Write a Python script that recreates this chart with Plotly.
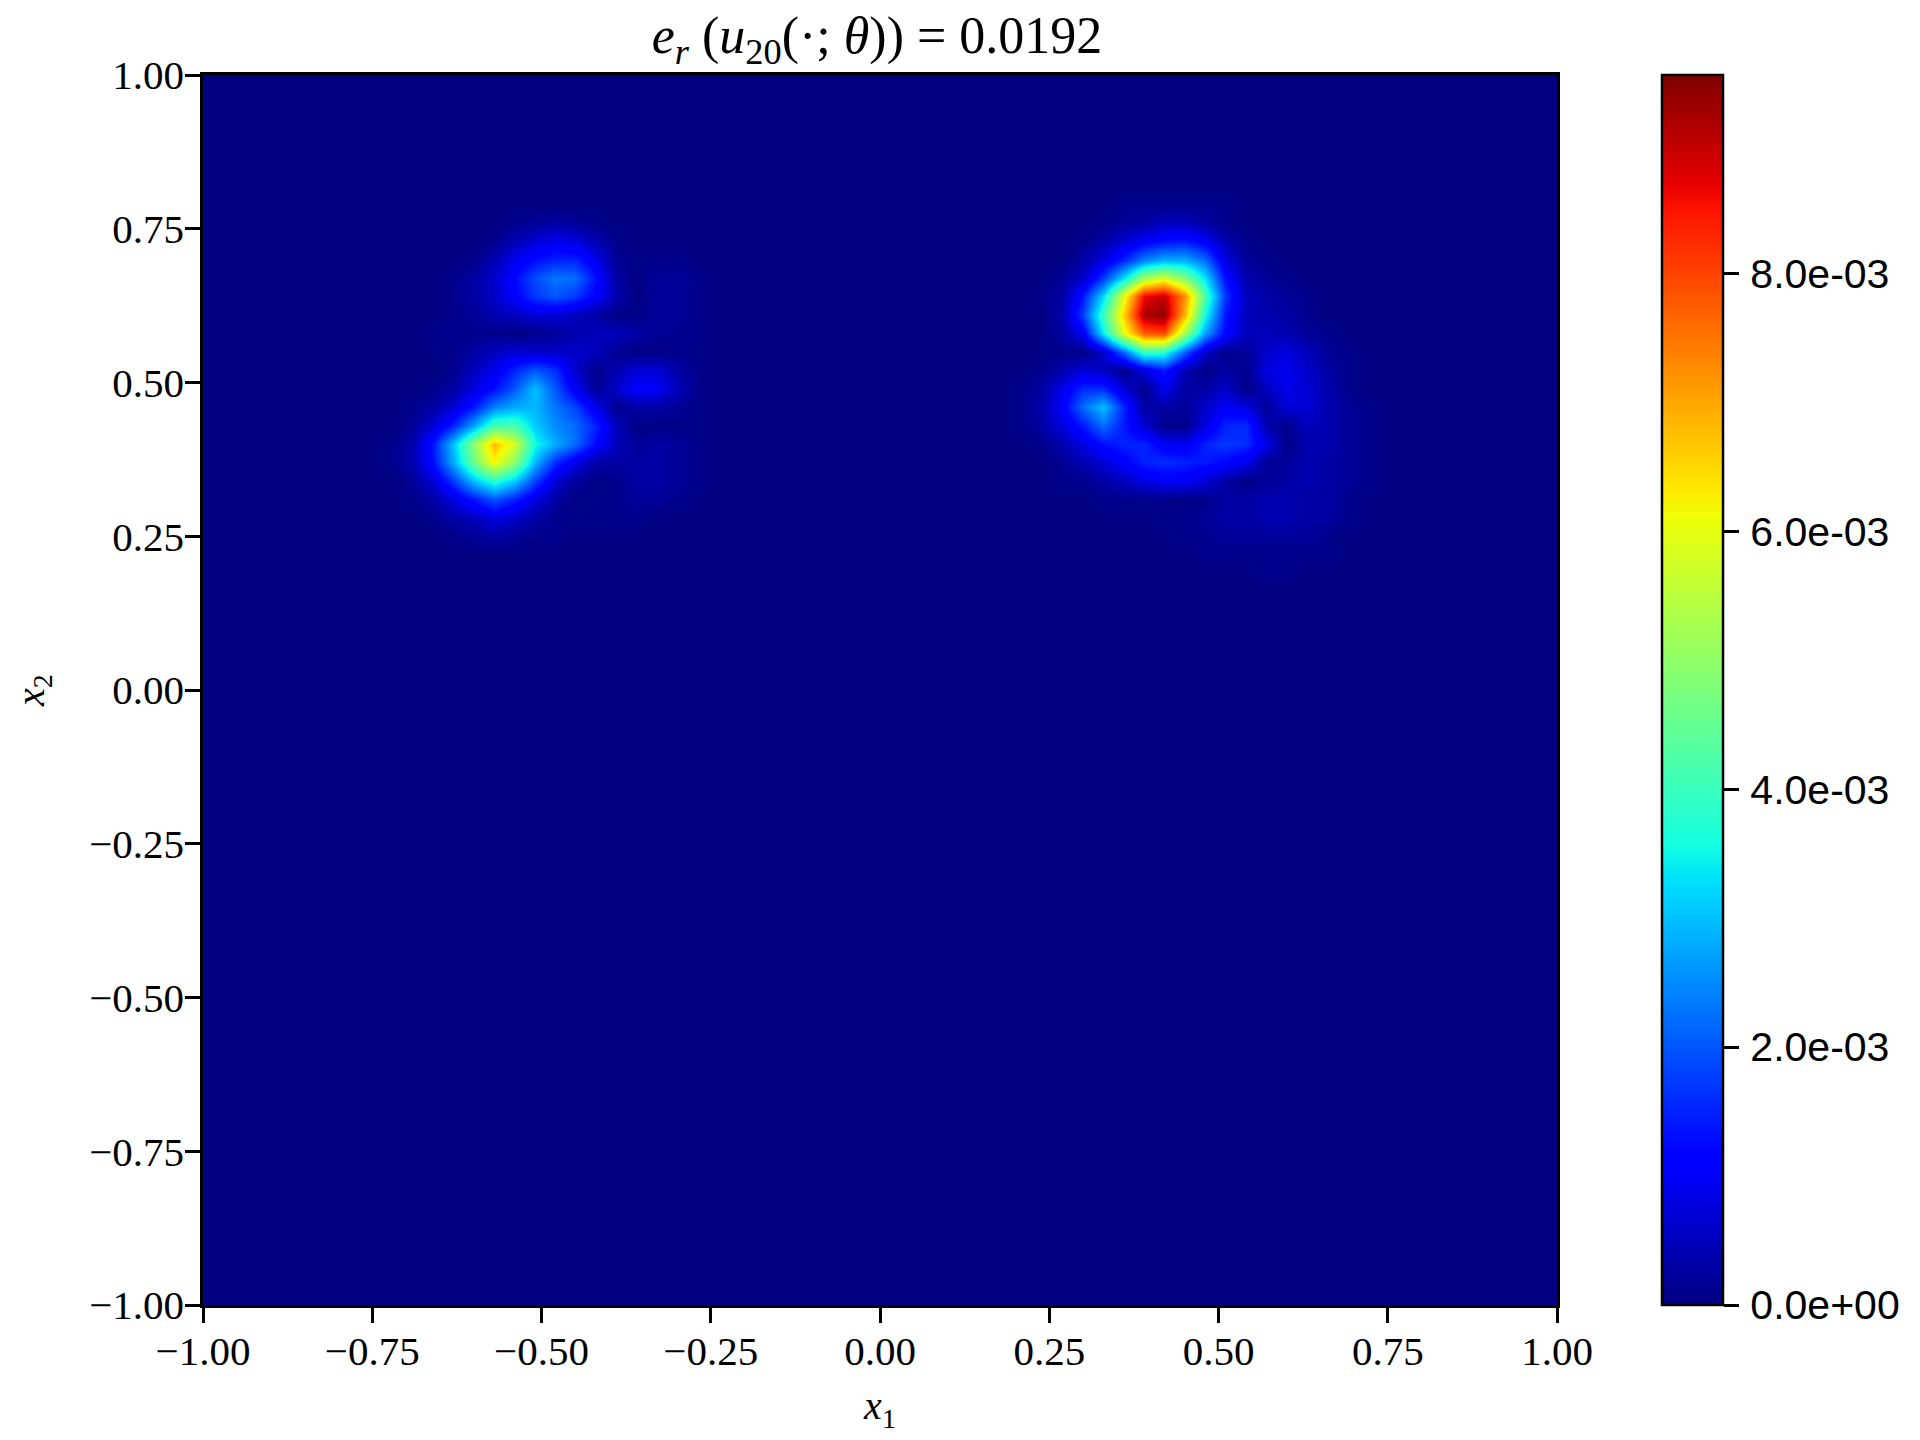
import numpy as np
import plotly.graph_objects as go

TITLE = "<i>e<sub>r</sub></i> (<i>u</i><sub>20</sub>(·; <i>θ</i>)) = 0.0192"
XLABEL = "<i>x</i><sub>1</sub>"
YLABEL = "<i>x</i><sub>2</sub>"
axis_ticks = [-1.0, -0.75, -0.5, -0.25, 0.0, 0.25, 0.5, 0.75, 1.0]
cbar_ticks = [0.0, 0.002, 0.004, 0.006, 0.008]
cbar_text = ["\u200a0.0e+00", "\u200a2.0e-03", "\u200a4.0e-03", "\u200a6.0e-03", "\u200a8.0e-03"]
ZMAX = 0.00954

x_left = [-0.72, -0.69, -0.66, -0.63, -0.60, -0.57, -0.54, -0.51, -0.48, -0.45, -0.42, -0.39, -0.36, -0.33, -0.30, -0.27]
x_right = [0.21, 0.24, 0.27, 0.30, 0.33, 0.36, 0.39, 0.42, 0.45, 0.48, 0.51, 0.54, 0.57, 0.60, 0.63, 0.66, 0.69, 0.72]
y_rows = [0.79, 0.76, 0.73, 0.70, 0.67, 0.64, 0.61, 0.58, 0.55, 0.52, 0.49, 0.46, 0.43, 0.40, 0.37, 0.34, 0.31, 0.28, 0.25, 0.22, 0.19]

# in units of 1e-4; rows run from x2=0.79 down to x2=0.19
left_values = [
 [0,0,0,0,0,0,0,0,0,0,0,0,0,0,0,0],
 [0,0,0,0,0,0,1,2,3,2,1,0,0,0,0,0],
 [0,0,0,0,0,1,4,7,9,8,4,1,0,0,0,0],
 [0,0,0,0,1,4,9,13,15,15,9,2,0.5,1,1,0],
 [0,0,0,1,3,6,12,19,23,22,13,3,0,2,2,1],
 [0,0,0,1,3,6,11,17,20,17,11,4,0,2,2,1],
 [0,0,0,1,2,4,5,7,7,5,3,0.5,0.5,2,2,1],
 [0,0,1,1,1,1,0.5,1,2,4,5,5,3,2,1,1],
 [0,0,0.5,1,3,5,7,6,6,6,5,1.5,0.5,0.5,1,0.5],
 [0,0,0,1,5,9,15,20,16,6,1,4,7,7,3,1],
 [0,0,1,3,8,13,20,30,20,10,1.5,6,11,10,5,1],
 [0,1,3,7,14,24,28,29,23,18,9,1,3,3,2,0.5],
 [0,2,7,15,28,42,42,31,25,22,15,5,0.5,0.5,0.5,0.5],
 [1,4,14,30,50,68,58,36,28,22,12,5,2,3,2,1],
 [1,4,13,28,46,62,50,29,16,9,3,3,3,3,2,1],
 [0,2,7,17,30,38,31,18,7,2,0.5,1,3,3,2,1],
 [0,1,3,8,14,20,15,8,3,0.5,0.5,1,2,2,1,0],
 [0,0,1,3,5,8,6,3,1,0.5,1,1,1,0,0,0],
 [0,0,0,1,2,3,2,1,1,0,0,0,0,0,0,0],
 [0,0,0,0,0,0,0,0,0,0,0,0,0,0,0,0],
 [0,0,0,0,0,0,0,0,0,0,0,0,0,0,0,0],
]
right_values = [
 [0,0,0,0,0,1,1,1,1,1,1,0,0,0,0,0,0,0],
 [0,0,0,0,1,2,3,5,5,3,1,0,0,0,0,0,0,0],
 [0,0,0,1,3,7,10,13,14,10,4,1,0,0,0,0,0,0],
 [0,0,0,3,8,15,24,28,28,22,8,2,1,0,0,0,0,0],
 [0,0,2,6,17,33,52,58,48,33,13,4,2,1,0,0,0,0],
 [0,1,3,14,32,60,86,90,72,42,17,5,3,2,1,0,0,0],
 [0,0,4,18,40,66,92,94,68,36,14,5,4,3,1,0,0,0],
 [0,0,3,10,34,60,78,80,52,27,12,5,5,4,2,1,0,0],
 [0,0.5,1,0.5,6,22,40,38,20,6,1,2,6,8,5,2,1,0],
 [0,1,4,7,5,1,8,14,4,0.5,3,1,8,9,6,3,1,0],
 [1,3,9,16,16,7,1,9,3,3,6,0.5,5,9,7,4,1,0],
 [1,4,11,22,30,15,3,3,2,6,10,8,2,7,7,4,2,1],
 [1,3,8,14,22,14,7,1,1,8,15,16,4,1,5,4,2,1],
 [0,1,4,8,13,15,15,10,9,15,17,16,9,0.5,4,4,2,1],
 [0,0,2,4,7,11,15,16,15,14,12,9,2,2,4,3,2,1],
 [0,0,1,1,3,5,8,10,10,7,3,0.5,2,3,4,3,2,1],
 [0,0,0,0,1,1,1,1,0.5,1,3,3,4,4,3,3,1,0],
 [0,0,0,0,0,0,0,1,1,2,3,3,4,4,3,3,1,0],
 [0,0,0,0,0,0,0,0,1,1,2,2,2,2,2,1,0,0],
 [0,0,0,0,0,0,0,0,0,1,1,1,1,1,1,1,0,0],
 [0,0,0,0,0,0,0,0,0,0,0,0,1,1,0,0,0,0],
]

# surround the two read patches with the empty background and assemble
x_all = [-1.0, -0.75] + x_left + [-0.24, 0.18] + x_right + [0.75, 1.0]
y_all = [1.0, 0.82] + y_rows + [0.16, -1.0]
blank = [0.0] * len(x_all)
z_all = [blank, blank]
for lv, rv in zip(left_values, right_values):
    z_all.append([0, 0] + lv + [0, 0] + rv + [0, 0])
z_all += [blank, blank]
z_all = np.array(z_all, dtype=float) * 1e-4

jet = [
    [0.0, "rgb(0,0,128)"], [0.11, "rgb(0,0,255)"], [0.125, "rgb(0,0,255)"],
    [0.34, "rgb(0,219,255)"], [0.35, "rgb(0,230,247)"], [0.375, "rgb(21,255,226)"],
    [0.64, "rgb(239,255,8)"], [0.65, "rgb(247,246,0)"], [0.66, "rgb(255,236,0)"],
    [0.89, "rgb(255,19,0)"], [0.91, "rgb(232,0,0)"], [1.0, "rgb(128,0,0)"],
]

fig = go.Figure(go.Heatmap(
    x=x_all, y=y_all, z=z_all, zmin=0, zmax=ZMAX, zsmooth="best", colorscale=jet,
    colorbar=dict(
        thicknessmode="pixels", thickness=61, lenmode="fraction", len=1.0,
        x=1.0775, xanchor="left", y=0, yanchor="bottom", ypad=0, xpad=0,
        outlinewidth=2.5, outlinecolor="black",
        tickmode="array", tickvals=cbar_ticks, ticktext=cbar_text,
        ticks="outside", ticklen=15, tickwidth=2.5, tickcolor="black",
        tickfont=dict(family="Liberation Sans", size=41, color="black"),
    ),
))

axis_style = dict(
    range=[-1, 1], tickmode="array", tickvals=axis_ticks, tickformat=".2f",
    ticks="outside", ticklen=15, tickwidth=2.5, tickcolor="black",
    showline=True, linewidth=2.5, linecolor="black", mirror=True,
    showgrid=False, zeroline=False,
    tickfont=dict(family="Liberation Serif", size=41, color="black"),
)
fig.update_xaxes(**axis_style, ticklabelstandoff=-7,
                 title=dict(text=XLABEL, standoff=19,
                 font=dict(family="Liberation Serif", size=40, color="black")))
fig.update_yaxes(**axis_style, ticklabelstandoff=-7,
                 title=dict(text=YLABEL, standoff=40,
                 font=dict(family="Liberation Serif", size=40, color="black")))
# the page adds an 8 px body margin, so the figure starts at (8, 8)
fig.update_layout(
    width=1912, height=1432, paper_bgcolor="white", plot_bgcolor="white",
    margin=dict(l=195, r=363, t=67, b=135, autoexpand=False),
    title=dict(text=TITLE, x=869 / 1912, xanchor="center", y=0.981, yanchor="middle",
               font=dict(family="Liberation Serif", size=52, color="black")),
)
fig.write_html("out.html")
